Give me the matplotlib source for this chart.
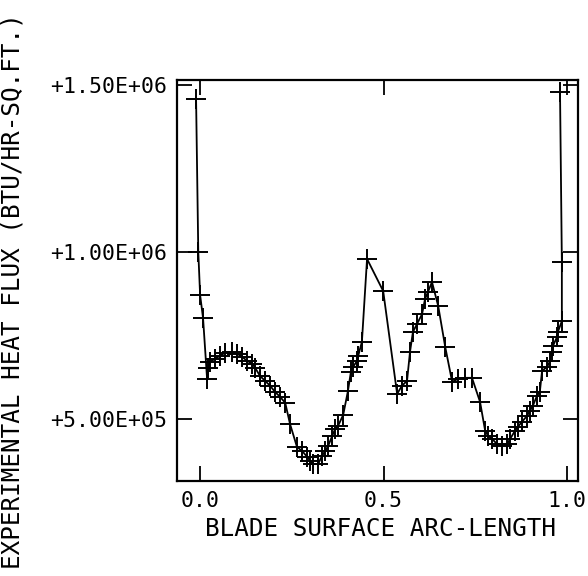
import matplotlib
matplotlib.use('Agg')
import matplotlib.pyplot as plt
from matplotlib.ticker import FuncFormatter

# blade surface arc-length (fraction) and measured heat flux (units of 1e5 BTU/HR-SQ.FT.)
arc = [-0.011, -0.005, 0.000, 0.008, 0.019, 0.022,
       0.027, 0.041, 0.054, 0.068, 0.087, 0.101, 0.114, 0.128, 0.142, 0.150,
       0.163, 0.177, 0.191, 0.204, 0.218, 0.232, 0.245, 0.264, 0.278, 0.292,
       0.300, 0.308, 0.322, 0.332, 0.341, 0.349, 0.360, 0.368, 0.376, 0.390,
       0.403, 0.411, 0.417, 0.428, 0.431, 0.441, 0.455, 0.499, 0.537, 0.550,
       0.564, 0.572, 0.580, 0.591, 0.605, 0.613, 0.621, 0.632, 0.649, 0.668,
       0.687, 0.703, 0.722, 0.741, 0.763, 0.777, 0.785, 0.796, 0.809, 0.823,
       0.837, 0.845, 0.858, 0.866, 0.877, 0.891, 0.899, 0.907, 0.918, 0.926,
       0.932, 0.946, 0.954, 0.959, 0.962, 0.973, 0.975, 0.986, 0.986, 0.981]
flux = [14.58, 10.00, 8.71, 8.02, 6.20, 6.53,
        6.71, 6.80, 6.89, 6.98, 7.01, 6.95, 6.86, 6.74, 6.65, 6.53,
        6.29, 6.14, 5.99, 5.81, 5.66, 5.48, 4.85, 4.16, 4.04, 3.86,
        3.74, 3.65, 3.65, 3.89, 4.04, 4.19, 4.49, 4.70, 4.79, 5.12,
        5.84, 6.41, 6.56, 6.74, 6.89, 7.31, 9.79, 8.83, 5.75, 5.99,
        6.14, 7.00, 7.60, 7.84, 8.14, 8.59, 8.80, 9.10, 8.38, 7.16,
        6.11, 6.20, 6.23, 6.23, 5.51, 4.64, 4.49, 4.40, 4.25, 4.19,
        4.25, 4.40, 4.64, 4.76, 4.91, 5.09, 5.24, 5.39, 5.69, 5.81,
        6.44, 6.56, 6.74, 7.01, 7.19, 7.46, 7.60, 7.93, 9.70, 14.79]
flux = [v * 1e5 for v in flux]

x_ticks = [0.0, 0.5, 1.0]
x_tick_labels = ['0.0', '0.5', '1.0']
y_ticks = [5e5, 1e6, 1.5e6]

font = 'DejaVu Sans Mono'
fig = plt.figure(figsize=(5.88, 5.76), dpi=100)
ax = fig.add_axes([177 / 588, 1 - 481 / 576, 401 / 588, 401 / 576])

ax.plot(arc, flux, color='black', lw=1.3, marker='+', ms=14, mew=1.4)

ax.set_xlim(-0.063, 1.030)
ax.set_ylim(3.14e5, 15.15e5)
ax.set_xticks(x_ticks)
ax.set_xticklabels(x_tick_labels)
ax.set_yticks(y_ticks)
ax.yaxis.set_major_formatter(FuncFormatter(lambda v, p: f'{v:+.2E}'))
ax.tick_params(direction='in', length=11, width=1.3, top=True, right=True,
               labelsize=15.5, pad=7)
for lab in ax.get_xticklabels() + ax.get_yticklabels():
    lab.set_family(font)
for s in ax.spines.values():
    s.set_linewidth(1.6)

fig.text(380 / 588, 1 - 529 / 576, 'BLADE SURFACE ARC-LENGTH', family=font,
         fontsize=17.5, ha='center', va='center')
fig.text(13 / 588, 1 - 291 / 576, 'EXPERIMENTAL HEAT FLUX (BTU/HR-SQ.FT.)',
         family=font, fontsize=17.5, rotation=90, ha='center', va='center')

fig.savefig('out.png', dpi=100)
